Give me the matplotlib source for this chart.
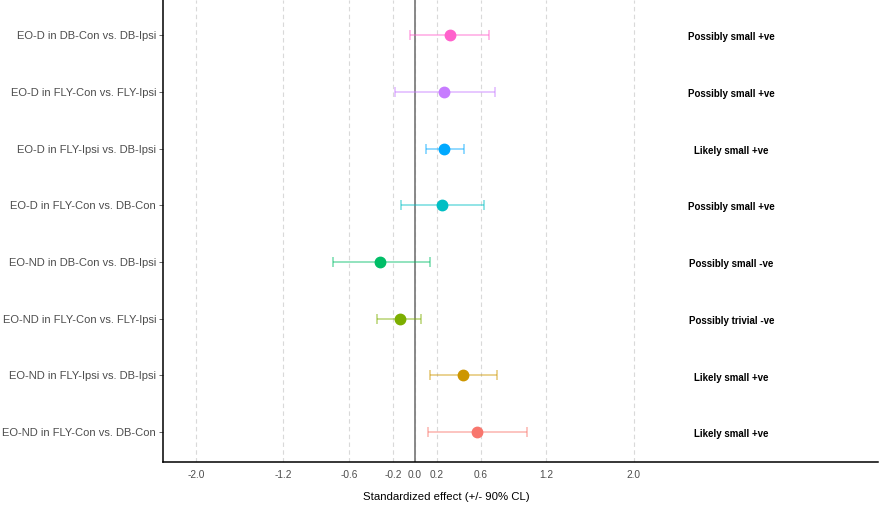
import numpy as np
import matplotlib
matplotlib.use("Agg")
import matplotlib.pyplot as plt

plt.rcParams['font.family'] = ['Liberation Sans', 'DejaVu Sans']

# rows listed top to bottom
comparisons = [
    "EO-D in DB-Con vs. DB-Ipsi",
    "EO-D in FLY-Con vs. FLY-Ipsi",
    "EO-D in FLY-Ipsi vs. DB-Ipsi",
    "EO-D in FLY-Con vs. DB-Con",
    "EO-ND in DB-Con vs. DB-Ipsi",
    "EO-ND in FLY-Con vs. FLY-Ipsi",
    "EO-ND in FLY-Ipsi vs. DB-Ipsi",
    "EO-ND in FLY-Con vs. DB-Con",
]
effect = [0.32, 0.27, 0.27, 0.25, -0.32, -0.14, 0.44, 0.57]
lower = [-0.04, -0.18, 0.10, -0.13, -0.75, -0.35, 0.14, 0.12]
upper = [0.68, 0.73, 0.45, 0.63, 0.14, 0.06, 0.75, 1.02]
inference = [
    "Possibly small +ve",
    "Possibly small +ve",
    "Likely small +ve",
    "Possibly small +ve",
    "Possibly small -ve",
    "Possibly trivial -ve",
    "Likely small +ve",
    "Likely small +ve",
]
colors = ["#FF61CC", "#C77CFF", "#00A9FF", "#00BFC4",
          "#00BE67", "#7CAE00", "#CD9600", "#F8766D"]
xticks = [-2.0, -1.2, -0.6, -0.2, 0.0, 0.2, 0.6, 1.2, 2.0]

fig = plt.figure(figsize=(8.86, 5.05), dpi=100)
ax = fig.add_axes([163/886, 43/505, 715/886, 462/505])

n = len(comparisons)
ypos = np.arange(n, 0, -1)

for xv in xticks:
    ax.axvline(xv, color="#d9d9d9", lw=0.8, ls=(0, (4, 3)), zorder=0)
ax.axvline(0, color="#7f7f7f", lw=1.3, zorder=1)

for i in range(n):
    ax.errorbar(effect[i], ypos[i],
                xerr=[[effect[i] - lower[i]], [upper[i] - effect[i]]],
                fmt="none", ecolor=colors[i], alpha=0.5, elinewidth=1.2,
                capsize=3.5, capthick=1.2, zorder=2)
    ax.plot(effect[i], ypos[i], "o", color=colors[i], ms=7.5, zorder=3)
    ax.text(2.89, ypos[i] - 0.04, inference[i], ha="center", va="center",
            fontsize=7.0, color="black", fontweight="bold")

ax.set_xlim(-2.30, 4.23)
ax.set_ylim(0.47, n + 0.62)
ax.set_yticks(ypos)
ax.set_yticklabels(comparisons, fontsize=8.0, color="#4d4d4d")
ax.set_xticks(xticks)
ax.set_xticklabels([f"{v:.1f}" for v in xticks], fontsize=7.3, color="#4d4d4d")
ax.tick_params(axis="y", length=3, width=0.6, color="#4d4d4d", pad=2)
ax.tick_params(axis="x", length=0, pad=6)

for s in ["top", "right"]:
    ax.spines[s].set_visible(False)
for s in ["left", "bottom"]:
    ax.spines[s].set_linewidth(1.1)
    ax.spines[s].set_color("black")

fig.text(446/886, 1 - 497/505, "Standardized effect (+/- 90% CL)",
         ha="center", va="center", fontsize=8.2, color="black")

fig.savefig("out.png", dpi=100)
